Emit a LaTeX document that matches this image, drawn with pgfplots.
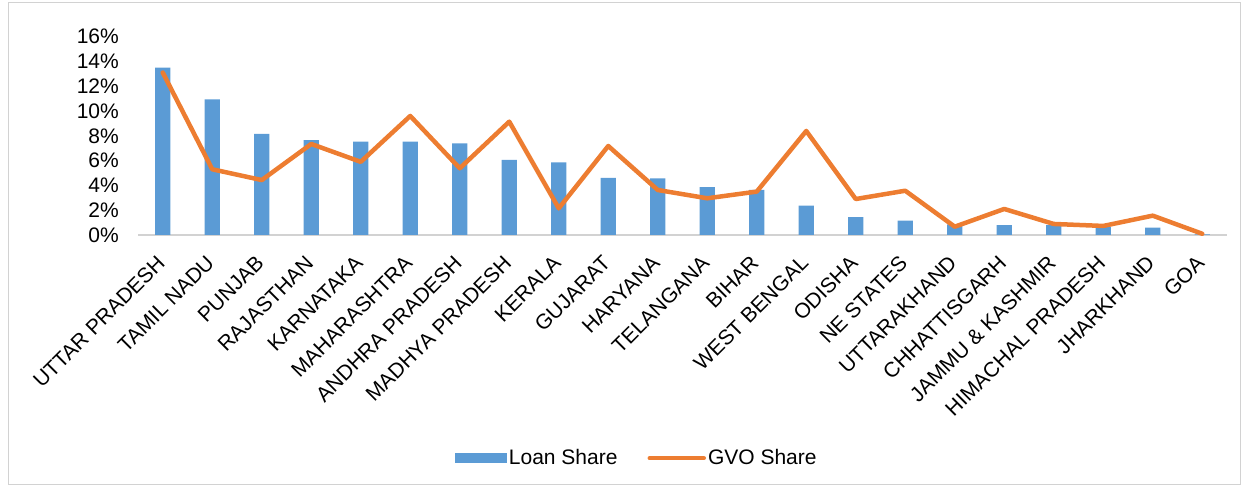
\documentclass[border=0pt]{standalone}
\usepackage{pgfplots}
\pgfplotsset{compat=1.18}
\usepackage{fontspec}
\setmainfont{Liberation Sans}
\definecolor{loanblue}{HTML}{5B9BD5}
\definecolor{gvoorange}{HTML}{ED7D31}
\begin{document}
\begin{tikzpicture}
\fontsize{21}{25}\selectfont
\path[use as bounding box] (0pt,0pt) rectangle (1246pt,486pt);
\draw[gray!35, line width=0.8pt] (8pt,2pt) rectangle (1240pt,484pt);
\begin{axis}[
  at={(138pt,251pt)}, anchor=south west,
  scale only axis, width=1089pt, height=198.4pt,
  xmin=-0.5, xmax=21.5, ymin=0, ymax=16,
  axis x line*=bottom, axis y line*=left,
  y axis line style={draw=none},
  x axis line style={draw=gray!35, line width=1.5pt, -},
  major tick length=0pt,
  ytick={0,2,...,16},
  yticklabels={0\%,2\%,4\%,6\%,8\%,10\%,12\%,14\%,16\%},
  yticklabel style={inner sep=0pt, xshift=-19pt, font=\fontsize{21}{25}\selectfont},
  xtick={0,...,21},
  xticklabels={UTTAR PRADESH,TAMIL NADU,PUNJAB,RAJASTHAN,KARNATAKA,MAHARASHTRA,ANDHRA PRADESH,MADHYA PRADESH,KERALA,GUJARAT,HARYANA,TELANGANA,BIHAR,WEST BENGAL,ODISHA,NE STATES,UTTARAKHAND,CHHATTISGARH,JAMMU \& KASHMIR,HIMACHAL PRADESH,JHARKHAND,GOA},
  xticklabel style={xshift=-7pt, yshift=-19pt, anchor=north east, inner sep=0pt, rotate=45, font=\fontsize{21}{25}\selectfont},
  legend columns=2,
  legend style={at={(0.458,-1.125)}, anchor=center, draw=none, fill=none,
    font=\fontsize{21}{25}\selectfont,
    /tikz/every even column/.append style={column sep=28pt}},
  clip=false,
]
\addplot[ybar, bar width=15.3pt, fill=loanblue, draw=none,
  legend image code/.code={\fill[loanblue] (0pt,-5pt) rectangle (52pt,5pt);}]
coordinates {
(0,13.5) (1,10.94) (2,8.15) (3,7.66) (4,7.53) (5,7.53) (6,7.39) (7,6.05)
(8,5.86) (9,4.6) (10,4.57) (11,3.87) (12,3.63) (13,2.37) (14,1.45) (15,1.16)
(16,0.85) (17,0.8) (18,0.8) (19,0.65) (20,0.6) (21,0.05)};
\addlegendentry{Loan Share}
\addplot[gvoorange, line width=4.5pt, line join=round, line cap=round, mark=none,
  legend image code/.code={\draw[gvoorange, line width=4.5pt, line cap=round] (0pt,0pt) -- (54pt,0pt);}]
coordinates {
(0,13.1) (1,5.3) (2,4.43) (3,7.34) (4,5.9) (5,9.6) (6,5.38) (7,9.14)
(8,2.15) (9,7.18) (10,3.63) (11,2.96) (12,3.5) (13,8.39) (14,2.9) (15,3.57)
(16,0.67) (17,2.1) (18,0.89) (19,0.73) (20,1.56) (21,0.1)};
\addlegendentry{GVO Share}
\end{axis}
\end{tikzpicture}
\end{document}
